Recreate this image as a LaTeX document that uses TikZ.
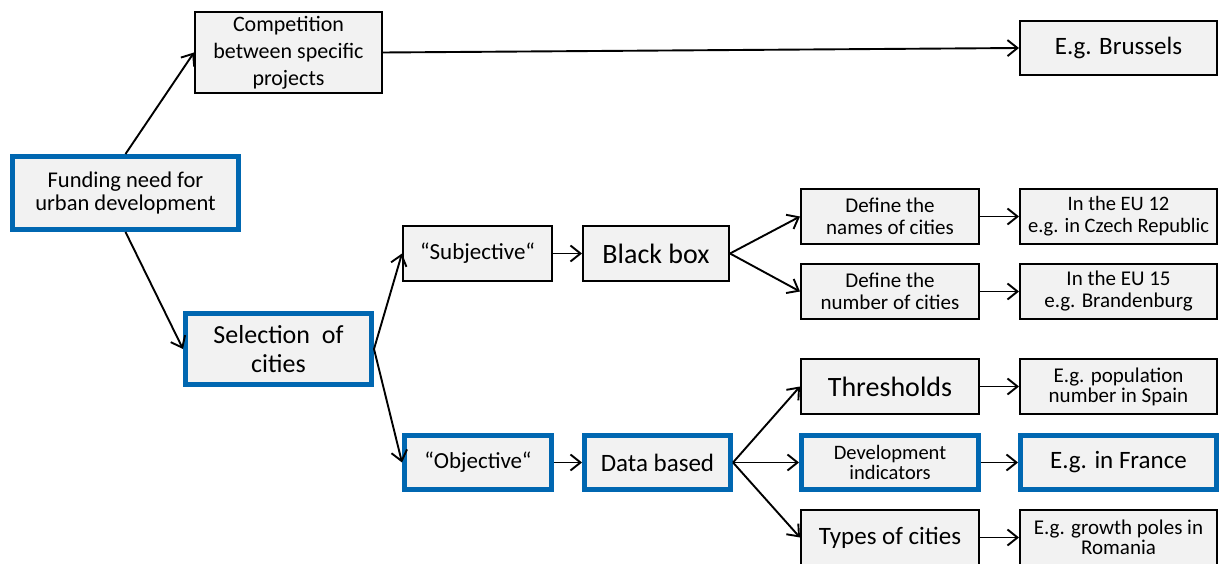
\documentclass[tikz,border=0pt]{standalone}
\usepackage{fontspec}
\setmainfont{Carlito}
\usetikzlibrary{arrows.meta}
\definecolor{boxfill}{HTML}{F2F2F2}
\definecolor{keyblue}{HTML}{0067B1}
\begin{document}
\begin{tikzpicture}[x=1pt,y=-1pt,
  box/.style={draw=black, line width=2pt, fill=boxfill, inner sep=0pt, align=center,
              font=\fontsize{21}{22}\selectfont},
  keybox/.style={box, draw=keyblue, line width=5pt},
  colA/.style={minimum width=178pt, minimum height=55pt},
  colB/.style={minimum width=197pt, minimum height=55pt},
  link/.style={line width=1.9pt, -{Straight Barb[length=10pt,width=16pt,line width=1.9pt]}}
]
\useasboundingbox (0,0) rectangle (1219,564);
\clip (0,0) rectangle (1219,564);

% left part
\node[keybox, minimum width=226pt, minimum height=73pt, font=\fontsize{22.5}{23.5}\selectfont]
  (fund) at (125.5,193) {Funding need for\\urban development};
\node[box, minimum width=187pt, minimum height=81pt, font=\fontsize{22}{27}\selectfont]
  (comp) at (288.5,52.5) {Competition\\between specific\\projects};
\node[box, minimum width=197pt, minimum height=54pt, font=\fontsize{25}{25}\selectfont]
  (brus) at (1118.5,48) {E.g. Brussels};
\node[keybox, minimum width=186pt, minimum height=71pt, font=\fontsize{26}{29}\selectfont]
  (sel) at (278.5,349) {Selection \ of\\cities};

% subjective branch
\node[box, minimum width=149pt, minimum height=55pt, font=\fontsize{23}{23}\selectfont]
  (subj) at (477.5,253.5) {“Subjective“};
\node[box, minimum width=146pt, minimum height=55pt, font=\fontsize{28}{28}\selectfont]
  (bbox) at (656,253.5) {Black box};
\node[box, colA] (names) at (890,216.5) {Define the\\names of cities};
\node[box, colB, font=\fontsize{20.5}{22}\selectfont] (eu12) at (1118.5,216.5) {In the EU 12\\e.g. in Czech Republic};
\node[box, colA] (numb) at (890,291.5) {Define the\\number of cities};
\node[box, colB, font=\fontsize{21}{22}\selectfont] (eu15) at (1118.5,291.5) {In the EU 15\\e.g. Brandenburg};

% objective branch
\node[keybox, minimum width=147pt, minimum height=54pt, font=\fontsize{23}{23}\selectfont]
  (obj) at (478,462.5) {“Objective“};
\node[keybox, minimum width=146pt, minimum height=54pt, font=\fontsize{25}{25}\selectfont]
  (data) at (657.5,462.5) {Data based};
\node[box, colA, font=\fontsize{28}{28}\selectfont] (thr) at (890,386.5) {Thresholds};
\node[box, colB, font=\fontsize{21}{20}\selectfont] (spain) at (1118.5,386.5) {E.g. population\\number in Spain};
\node[keybox, minimum width=177pt, minimum height=54pt, font=\fontsize{20.5}{20}\selectfont]
  (dev) at (890,462.5) {Development\\indicators};
\node[keybox, minimum width=196pt, minimum height=54pt, font=\fontsize{25}{25}\selectfont]
  (fra) at (1118.5,462.5) {E.g. in France};
\node[box, colA, font=\fontsize{25}{25}\selectfont] (types) at (890,537.5) {Types of cities};
\node[box, colB, font=\fontsize{21}{20}\selectfont] (rom) at (1118.5,537.5) {E.g. growth poles in\\Romania};

% connectors
\draw[link] (fund.north) -- (comp.west);
\draw[link] (fund.south) -- (sel.west);
\draw[link] (comp.east) -- (brus.west);
\draw[link] (sel.east) -- (subj.west);
\draw[link] (sel.east) -- (obj.west);
\draw[link] (subj) -- (bbox);
\draw[link] (bbox.east) -- (names.west);
\draw[link] (bbox.east) -- (numb.west);
\draw[link] (names) -- (eu12);
\draw[link] (numb) -- (eu15);
\draw[link] (obj) -- (data);
\draw[link] (data.east) -- (thr.west);
\draw[link] (data.east) -- (dev.west);
\draw[link] (data.east) -- (types.west);
\draw[link] (thr) -- (spain);
\draw[link] (dev) -- (fra);
\draw[link] (types) -- (rom);
\end{tikzpicture}
\end{document}
